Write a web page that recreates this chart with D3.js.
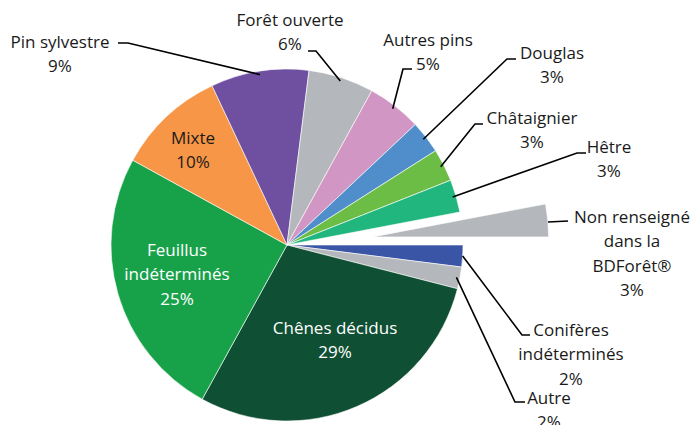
<!DOCTYPE html>
<html>
<head>
<meta charset="utf-8">
<script src="https://cdn.jsdelivr.net/npm/d3@7"></script>
<style>
  body { margin: 0; background: #fff; }
  svg text { font-family: "Open Sans", Lato, sans-serif; font-size: 17px; }
</style>
</head>
<body>
<div id="chart"></div>
<script>
// slices, clockwise from 3 o'clock
const labels = ["Conifères|indéterminés", "Autre", "Chênes décidus", "Feuillus|indéterminés", "Mixte",
    "Pin sylvestre", "Forêt ouverte", "Autres pins", "Douglas", "Châtaignier", "Hêtre",
    "Non renseigné|dans la|BDForêt®"]
const values = [2, 2, 29, 25, 10, 9, 6, 5, 3, 3, 3, 3]
const colors = ["#3a54a6", "#b4b7bb", "#0f4f33", "#17a24a", "#f79646", "#6f50a0", "#b4b7bb",
    "#d196c3", "#4f8dcb", "#6cbd45", "#22b67f", "#b4b7bb"]

// label anchor (text centre) and leader line elbow, outside labels only
const labelPos = {
    "Pin sylvestre": { x: 60, y: 42, elbow: [[118, 43], [128, 43]], anchorR: 0.98 },
    "Forêt ouverte": { x: 290, y: 20, elbow: [[308, 51], [316, 51]], anchorR: 0.98 },
    "Autres pins": { x: 428, y: 40, elbow: [[412, 69], [403, 69]], anchorR: 0.98 },
    "Douglas": { x: 552, y: 53, elbow: [[516, 59], [507, 59]], anchorR: 0.98 },
    "Châtaignier": { x: 532, y: 118, elbow: [[483, 124], [475, 124]], anchorR: 0.98 },
    "Hêtre": { x: 609, y: 147, elbow: [[586, 153], [577, 153]], anchorR: 0.98 },
    "Non renseigné|dans la|BDForêt®": { x: 632, y: 217, elbow: [[568, 221], [548, 222]], anchorR: 1 },
    "Conifères|indéterminés": { x: 571, y: 330, elbow: [[530, 335], [522, 335]], anchorR: 1 },
    "Autre": { x: 549, y: 398, elbow: [[525, 402], [515, 402]], anchorR: 0.98 }
}
const insidePos = {
    "Mixte": { x: 193, y: 138, fill: "#1a1a1a" },
    "Feuillus|indéterminés": { x: 177, y: 250, fill: "#fff" },
    "Chênes décidus": { x: 335, y: 328, fill: "#fff" }
}

const width = 694, height = 425
const cx = 287, cy = 245, radius = 176
const explodeLabel = "Non renseigné|dans la|BDForêt®"
const explodeDist = 86
const lineH = 24.5

const svg = d3.select("#chart").append("svg")
    .attr("width", width)
    .attr("height", height)

const data = labels.map((l, i) => ({ label: l, value: values[i], color: colors[i] }))

const pie = d3.pie()
    .sort(null)
    .value(d => d.value)
    .startAngle(Math.PI / 2)
    .endAngle(Math.PI / 2 + 2 * Math.PI)

const arc = d3.arc().innerRadius(0).outerRadius(radius)

const arcs = pie(data)

const g = svg.append("g").attr("transform", "translate(" + cx + "," + cy + ")")

function offset(d) {
    if (d.data.label != explodeLabel) return [0, 0]
    let mid = (d.startAngle + d.endAngle) / 2
    return [Math.sin(mid) * explodeDist, -Math.cos(mid) * explodeDist]
}

g.selectAll("path")
    .data(arcs)
    .enter()
    .append("path")
    .attr("d", arc)
    .attr("fill", d => d.data.color)
    .attr("stroke", "#fff")
    .attr("stroke-width", 0.6)
    .attr("transform", d => "translate(" + offset(d) + ")")

function pct(d) { return d.data.value + "%" }

// leader lines + outside labels
arcs.forEach(d => {
    let p = labelPos[d.data.label]
    if (!p) return
    let mid = (d.startAngle + d.endAngle) / 2
    let off = offset(d)
    let ax = cx + off[0] + Math.sin(mid) * radius * p.anchorR
    let ay = cy + off[1] - Math.cos(mid) * radius * p.anchorR
    if (d.data.label == explodeLabel) { ax = p.elbow[1][0]; ay = p.elbow[1][1] }
    let pts = [p.elbow[0], p.elbow[1], [ax, ay]]
    svg.append("path")
        .attr("d", d3.line()(pts))
        .attr("fill", "none")
        .attr("stroke", "#000")
        .attr("stroke-width", 1.6)

    let lines = d.data.label.split("|").concat([pct(d)])
    let t = svg.append("text").attr("text-anchor", "middle").attr("fill", "#1a1a1a")
    lines.forEach((s, i) => {
        t.append("tspan")
            .attr("x", p.x)
            .attr("y", p.y + i * lineH)
            .attr("dy", "0.35em")
            .text(s)
    })
})

// labels inside slices
arcs.forEach(d => {
    let p = insidePos[d.data.label]
    if (!p) return
    let lines = d.data.label.split("|").concat([pct(d)])
    let t = svg.append("text").attr("text-anchor", "middle").attr("fill", p.fill)
    lines.forEach((s, i) => {
        t.append("tspan")
            .attr("x", p.x)
            .attr("y", p.y + i * lineH)
            .attr("dy", "0.35em")
            .text(s)
    })
})
</script>
</body>
</html>
